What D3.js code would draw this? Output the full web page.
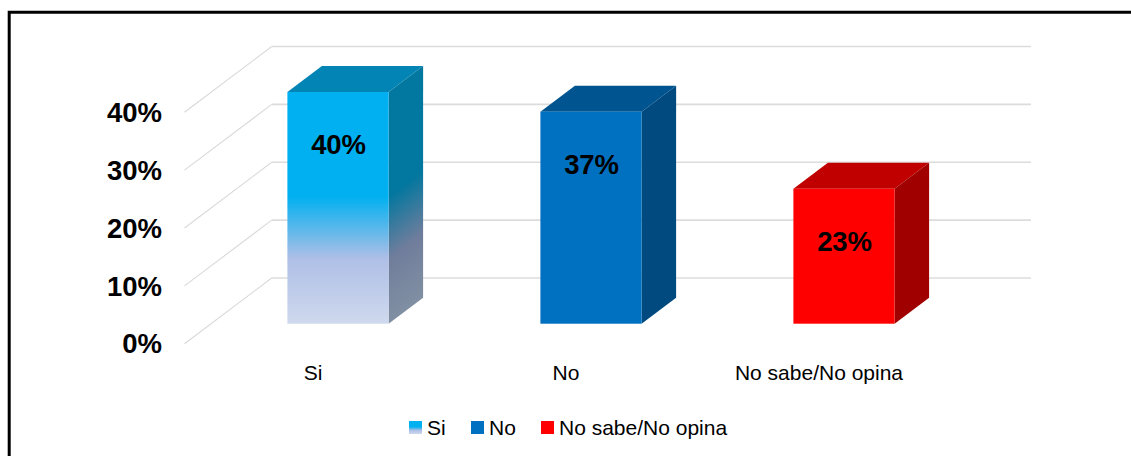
<!DOCTYPE html>
<html><head><meta charset="utf-8">
<script src="https://cdn.jsdelivr.net/npm/d3@7/dist/d3.min.js"></script>
<style>
html,body{margin:0;padding:0;background:#fff;overflow:hidden}
svg{display:block}
text{font-family:"Liberation Sans",Arial,sans-serif;fill:#000}
</style></head><body>
<svg id="c" width="1131" height="456"></svg>
<script>
const categories = ["Si", "No", "No sabe/No opina"];
const values = [0.40, 0.366, 0.233];
const ticks = [0, 0.1, 0.2, 0.3, 0.4];

const svg = d3.select("#c");
const W = 1131, H = 456;
const y = d3.scaleLinear().domain([0, 0.4]).range([323.7, 92]);
const x = d3.scaleBand().domain(categories).range([211.5, 970.5]).paddingInner(0.6).paddingOuter(0.3);
const yWall = d3.scaleLinear().domain([0, 0.4]).range([278, 46.5]);
const yFront = d3.scaleLinear().domain([0, 0.4]).range([343.8, 112.3]);
const wallL = 271.7, wallR = 1031, frontL = 184.5;
const depthX = 34.5, depthY = 26;

const defs = svg.append("defs");
function stops(g, list){ list.forEach(s => g.append("stop").attr("offset", s[0]).attr("stop-color", s[1])); }
const siFront = [[0,"#00b0f0"],[0.45,"#00b0f0"],[0.72,"#afbfe6"],[1,"#cfd9ee"]];
const siSide  = [[0,"#02779f"],[0.45,"#02779f"],[0.72,"#6f7d9c"],[1,"#818fa3"]];
stops(defs.append("linearGradient").attr("id","gFront").attr("x1",0).attr("y1",0).attr("x2",0).attr("y2",1), siFront);
stops(defs.append("linearGradient").attr("id","gSwatch").attr("x1",0).attr("y1",0).attr("x2",0).attr("y2",1), siFront);
{
  const x0 = x("Si") + x.bandwidth(), y0 = y(values[0]), h = y(0) - y0;
  const len = Math.hypot(depthX, depthY), nx = depthY/len, ny = depthX/len, p = h*ny;
  stops(defs.append("linearGradient").attr("id","gSide").attr("gradientUnits","userSpaceOnUse")
    .attr("x1",x0).attr("y1",y0).attr("x2",x0+p*nx).attr("y2",y0+p*ny), siSide);
}
const fills = [
  {front:"url(#gFront)", side:"url(#gSide)", top:"#0284b5", swatch:"url(#gSwatch)"},
  {front:"#0070c0", side:"#004a80", top:"#005490", swatch:"#0070c0"},
  {front:"#ff0000", side:"#a00000", top:"#c00000", swatch:"#ff0000"}
];

// frame
svg.append("path").attr("d", d3.line()([[9.2,H],[9.2,12.2],[W,12.2]]))
  .attr("fill","none").attr("stroke","#000").attr("stroke-width",3);

// walls
const grid = svg.append("g");
ticks.forEach(t => {
  grid.append("line").attr("x1",wallL).attr("x2",wallR).attr("y1",yWall(t)).attr("y2",yWall(t))
    .attr("stroke","#dcdcdc").attr("stroke-width",1.6);
  grid.append("line").attr("x1",frontL).attr("x2",wallL).attr("y1",yFront(t)).attr("y2",yWall(t))
    .attr("stroke","#d9d9d9").attr("stroke-width",1.1);
});

// y tick labels
svg.append("g").selectAll("text").data(ticks).join("text")
  .attr("x",162).attr("y",d => yFront(d)+9.6)
  .attr("text-anchor","end").attr("font-weight","bold").attr("font-size",27.5)
  .text(d3.format(".0%"));

// bars
const pts = a => a.map(p => p.join(",")).join(" ");
categories.forEach((c,i) => {
  const x0 = x(c), x1 = x0 + x.bandwidth(), yt = y(values[i]), yb = y(0);
  const g = svg.append("g");
  g.append("polygon").attr("points", pts([[x0,yt],[x0+depthX,yt-depthY],[x1+depthX,yt-depthY],[x1,yt]])).attr("fill",fills[i].top);
  g.append("polygon").attr("points", pts([[x1,yt],[x1+depthX,yt-depthY],[x1+depthX,yb-depthY],[x1,yb]])).attr("fill",fills[i].side);
  g.append("rect").attr("x",x0).attr("y",yt).attr("width",x.bandwidth()).attr("height",yb-yt).attr("fill",fills[i].front);
  g.append("text").attr("x",(x0+x1)/2+0.5).attr("y",yt+62).attr("text-anchor","middle")
    .attr("font-weight","bold").attr("font-size",27.5).attr("letter-spacing",-0.1).text(d3.format(".0%")(values[i]));
  svg.append("text").attr("x",(x0+x1)/2-25).attr("y",380).attr("text-anchor","middle")
    .attr("font-size",21).text(c);
});

// legend
const legendX = [409, 471, 541];
categories.forEach((c,i) => {
  svg.append("rect").attr("x",legendX[i]).attr("y",421).attr("width",13).attr("height",13).attr("fill",fills[i].swatch);
  svg.append("text").attr("x",legendX[i]+18).attr("y",434.5).attr("font-size",21).text(c);
});
</script>
</body></html>
